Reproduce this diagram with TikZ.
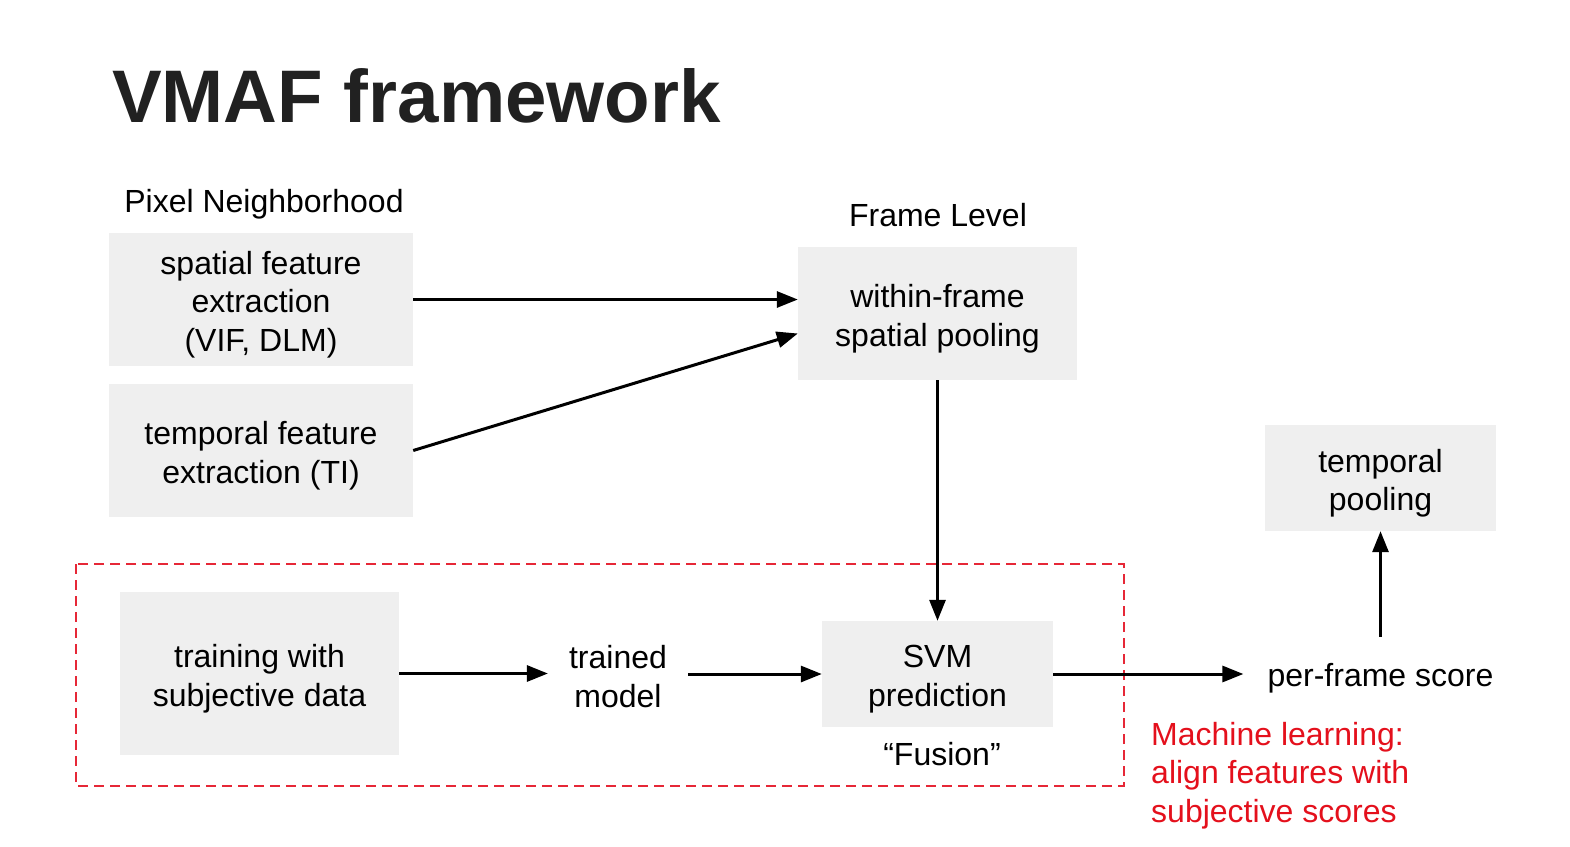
\documentclass[tikz,border=0pt]{standalone}
\usepackage{fontspec}
\setmainfont{Liberation Sans}
\usetikzlibrary{arrows.meta}
\definecolor{boxgray}{RGB}{239,239,239}
\definecolor{titlegray}{RGB}{33,33,33}
\definecolor{mlred}{RGB}{228,16,28}
\definecolor{dashred}{RGB}{230,40,55}
\begin{document}
\begin{tikzpicture}[x=1pt,y=-1pt,
  txt/.style={font=\fontsize{32}{38.5}\selectfont, align=center, inner sep=0pt},
  graybox/.style={inner sep=0pt, fill=boxgray, draw=none},
  boxtext/.style={label={[txt,yshift=-5pt]center:{#1}}},
  arr/.style={line width=3pt, -{Triangle[length=21pt,width=16pt]}}]
\useasboundingbox (0,0) rectangle (1570,846);

\node[anchor=base west, inner sep=0pt, text=titlegray,
      font=\fontsize{74.5}{80}\selectfont\bfseries] (title) at (112,122) {VMAF framework};

\node[txt] (pn) at (264,204) {Pixel Neighborhood};
\node[txt] (fl) at (938,215) {Frame Level};

\node[graybox, minimum width=304pt, minimum height=133pt,
      boxtext={spatial feature\\extraction\\(VIF, DLM)}] (sp) at (261,299.5) {};
\node[graybox, minimum width=304pt, minimum height=133pt,
      boxtext={temporal feature\\extraction (TI)}] (tf) at (261,450.5) {};
\node[graybox, minimum width=279pt, minimum height=133pt,
      boxtext={within-frame\\spatial pooling}] (wf) at (937.5,313.5) {};
\node[graybox, minimum width=231pt, minimum height=106pt,
      boxtext={SVM\\prediction}] (svm) at (937.5,674) {};
\node[txt] (fu) at (942,754) {“Fusion”};
\node[graybox, minimum width=279pt, minimum height=163pt,
      boxtext={training with\\subjective data}] (tr) at (259.5,673.5) {};
\node[txt, inner xsep=21pt] (tm) at (618,676.5) {trained\\model};
\node[txt, inner xsep=24pt, minimum height=74pt] (pf) at (1380.5,678) {per-frame score};
\node[graybox, minimum width=231pt, minimum height=106pt,
      boxtext={temporal\\pooling}] (tp) at (1380.5,478) {};

\draw[dashred, line width=1.6pt, dash pattern=on 10pt off 6pt] (76,564) rectangle (1124,786);

\node[txt, align=left, anchor=north west, text=mlred] (ml) at (1151,722)
  {Machine learning:\\align features with\\subjective scores};

\draw[arr] (sp.east) -- (sp.east -| wf.west);
\draw[arr] (tf.east) -- ([yshift=-20pt]wf.west);
\draw[arr] (wf.south) -- (svm.north);
\draw[arr] (tr.east) -- (tr.east -| tm.west);
\draw[arr] (svm.west -| tm.east) -- (svm.west);
\draw[arr] (svm.east) -- (svm.east -| pf.west);
\draw[arr] ([yshift=4pt]pf.north) -- (tp.south);
\end{tikzpicture}
\end{document}
